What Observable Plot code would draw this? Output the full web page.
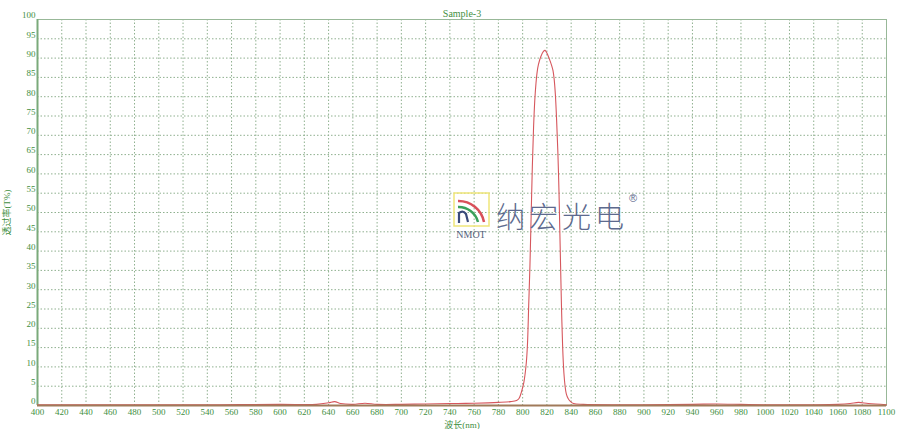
<!DOCTYPE html>
<html>
<head>
<meta charset="utf-8">
<script src="https://cdn.jsdelivr.net/npm/d3@7"></script>
<script src="https://cdn.jsdelivr.net/npm/@observablehq/plot@0.6"></script>
<style>
  html, body { margin: 0; padding: 0; background: #fff; }
  #wrap { position: relative; width: 900px; height: 429px; }
  #logo { position: absolute; left: 0; top: 0; pointer-events: none; }
</style>
</head>
<body>
<div id="wrap"></div>
<script>
const title = "Sample-3";
const xLabel = "波长(nm)";
const yLabel = "透过率(T%)";
const xTicks = [400,420,440,460,480,500,520,540,560,580,600,620,640,660,680,700,720,740,760,780,800,820,840,860,880,900,920,940,960,980,1000,1020,1040,1060,1080,1100];
const yTicks = [0,5,10,15,20,25,30,35,40,45,50,55,60,65,70,75,80,85,90,95,100];

const wavelength = [400,450,500,550,600,630,640,645,650,660,670,680,700,720,740,760,780,790,795,797,799,801,803,804,805,806,807,808,809,810,811,812,813,815,817,818.5,820,822,824,825,826,827,828,829,830,830.6,831.3,832,833,834,835,836,837.5,839.5,842,850,880,900,940,960,980,1000,1040,1060,1070,1077,1085,1100];
const transmittance = [0.2,0.2,0.2,0.2,0.3,0.3,0.7,1.0,0.5,0.3,0.6,0.3,0.3,0.4,0.5,0.6,0.8,1.0,1.3,1.8,3.5,6,11,16,26,36,49,62,72,79,83.5,86.5,88.3,90.4,91.7,92,91.3,89.8,88,86.8,84.5,80.5,74,66,55,46,36,26,15,8.5,5,3,1.8,1,0.5,0.3,0.2,0.2,0.3,0.4,0.3,0.2,0.2,0.3,0.5,0.8,0.5,0.2];

const data = wavelength.map((w, i) => ({w, t: transmittance[i]}));

const green = "#3f8f3f";
const gridColor = "#8fb08f";

const chart = Plot.plot({
  width: 900,
  height: 429,
  marginLeft: 37,
  marginRight: 14,
  marginTop: 19,
  marginBottom: 24,
  style: {fontFamily: "'Liberation Serif', 'Noto Sans CJK SC', serif", fontSize: "9px", color: green, background: "#fff", overflow: "visible"},
  x: {domain: [400, 1100], ticks: xTicks, tickFormat: d => String(d), tickSize: 0, tickPadding: 3, label: xLabel, labelAnchor: "center", labelArrow: "none", labelOffset: 22},
  y: {domain: [0, 100], ticks: yTicks, tickFormat: d => String(d), tickSize: 0, tickPadding: 2, label: yLabel, labelAnchor: "center", labelArrow: "none", labelOffset: 34},
  marks: [
    Plot.gridX(xTicks, {stroke: gridColor, strokeOpacity: 1, strokeDasharray: "1.5,2"}),
    Plot.gridY(yTicks, {stroke: gridColor, strokeOpacity: 1, strokeDasharray: "1.5,2"}),
    Plot.frame({stroke: "#98b898"}),
    Plot.ruleX([400], {stroke: "#7aaa7a", strokeWidth: 2}),
    Plot.line(data, {x: "w", y: "t", stroke: "#d6575d", strokeWidth: 1.1, curve: "catmull-rom"}),
    Plot.ruleY([0], {stroke: "#a07a5a", strokeWidth: 2}),
    Plot.text([title], {frameAnchor: "top", dy: -10, fill: green, fontSize: 10})
  ]
});

// shift y tick labels slightly up as in the reference
chart.querySelectorAll("g[aria-label='y-axis tick label'] text").forEach(t => t.setAttribute("dy", "-0.45em"));

document.getElementById("wrap").appendChild(chart);

// Watermark logo overlay
const logo = document.createElementNS("http://www.w3.org/2000/svg", "svg");
logo.setAttribute("id", "logo");
logo.setAttribute("width", 900);
logo.setAttribute("height", 429);
logo.innerHTML = `
  <rect x="454" y="193" width="35" height="33" fill="none" stroke="#efe67a" stroke-width="1.5"/>
  <path d="M458,201 A26,26 0 0 1 484,222" fill="none" stroke="#d9505a" stroke-width="2.5"/>
  <path d="M458,207 A20,20 0 0 1 478,222" fill="none" stroke="#3aa05a" stroke-width="2.5"/>
  <path d="M459,223 L459,213 Q463,210 466,214 L468,222" fill="none" stroke="#3a4a7a" stroke-width="2.2"/>
  <text x="471" y="238" text-anchor="middle" font-family="'Liberation Serif', serif" font-size="10" fill="#55607a">NMOT</text>
  <text x="496" y="228" font-family="'Noto Sans CJK SC', sans-serif" font-size="29" font-weight="300" letter-spacing="4" fill="#5d6a8e">纳宏光电</text>
  <text x="629" y="202" font-family="'Liberation Sans', sans-serif" font-size="11" fill="#5d6a8e">®</text>
`;
document.getElementById("wrap").appendChild(logo);
</script>
</body>
</html>
